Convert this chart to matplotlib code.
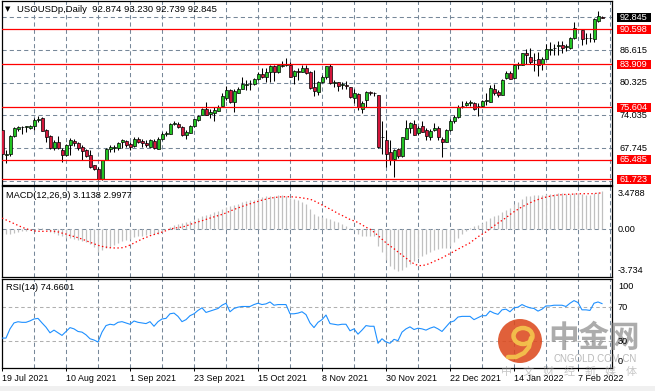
import numpy as np
import matplotlib
matplotlib.use('Agg')
import matplotlib.pyplot as plt
from matplotlib.patches import Rectangle, Circle, Ellipse

# Daily candles (USOUSDp), one entry per bar, None = bar not visible
opens = [71.3, 66.4, 66.6, 70.1, 71.5, 71.8, 71.8, 71.7, 72.0, 73.2,
         73.6, 71.2, 70.1, 67.7, 68.9, 67.3, 66.5, 68.3, 69.2, 68.7,
         67.9, 67.3, 66.4, 64.5, 63.7, 61.8, 65.5, 67.5, 67.7, 67.7,
         68.9, 69.2, 68.6, 68.2, 69.5, 69.2, 68.8, 68.0, 69.2, 67.5,
         69.5, 70.5, 70.5, 72.4, 72.4, 71.8, 70.3, 70.7, 72.0, 73.1,
         74.2, 75.2, 74.3, 74.6, 74.9, 75.9, 77.3, 79.0, 76.7, 78.4,
         79.1, 79.9, 80.0, 80.0, 81.0, 82.0, 81.5, 82.3, 83.5, 82.3,
         83.5, 83.7, 83.7, 81.6, 82.5, 82.4, 83.2, 82.4, 79.5, 78.6,
         80.4, 81.4, 83.5, 80.2, 80.4, 79.9, 79.9, 79.5, 77.3, 78.2,
         75.3, 77.1, 78.5, 78.3, 77.9, 69.8, 69.4, 67.0, 65.6, 67.5,
         66.2, 69.5, 71.7, 72.4, 70.6, 72.0, 71.2, 69.9, 71.3, 71.6,
         69.5, 69.0, 71.2, 72.9, 73.7, 75.8, 76.0, 76.5, 76.4, 75.9,
         75.8, 76.9, 76.7, 79.2, 78.5, 77.9, 81.2, 82.2, 81.2, 83.8,
         83.8, 86.0, 85.3, 84.7, 84.9, 83.9, 84.9, 86.7, 87.0, 87.4,
         87.6, 87.2, 87.0, 88.9, None, 90.4, 88.9, 89.0, 88.7, 92.2,
         92.874]
highs = [71.5, 67.4, 70.3, 71.8, 72.0, 72.0, 72.1, 72.2, 73.5, 73.9,
         73.7, 71.4, 70.2, 69.3, 70.1, 67.7, 68.5, 69.7, 69.6, 69.0,
         68.3, 67.6, 67.4, 64.6, 64.1, 65.5, 67.7, 68.4, 68.3, 69.0,
         69.6, 69.3, 69.0, 69.8, 69.8, 69.5, 69.3, 69.6, 69.6, 69.8,
         70.8, 71.1, 72.5, 73.0, 72.7, 72.0, 71.2, 72.2, 73.4, 74.1,
         75.4, 76.7, 75.2, 75.6, 76.0, 78.3, 79.7, 79.1, 79.1, 79.5,
         81.4, 80.9, 80.8, 81.2, 82.3, 83.1, 83.1, 83.8, 83.7, 83.8,
         84.5, 85.1, 84.4, 82.8, 83.1, 83.8, 83.8, 82.6, 82.7, 80.6,
         81.9, 83.6, 83.9, 80.9, 80.5, 80.5, 80.6, 79.6, 79.2, 78.4,
         76.9, 78.8, 78.7, 78.6, 78.0, 72.9, 71.2, 69.3, 67.5, 67.7,
         69.9, 73.1, 72.8, 73.1, 72.0, 72.9, 71.7, 71.5, 72.5, 72.0,
         69.9, 71.4, 73.3, 74.1, 76.0, 76.9, 76.9, 77.0, 76.6, 76.4,
         77.1, 78.3, 79.9, 80.1, 79.0, 81.0, 82.6, 82.5, 83.9, 84.3,
         86.1, 86.9, 87.1, 86.0, 86.2, 85.2, 87.8, 88.1, 87.8, 88.3,
         88.4, 87.8, 89.1, 92.0, None, 90.5, 89.9, 89.8, 92.7, 94.2,
         93.230]
lows = [65.9, 64.9, 66.3, 69.9, 71.0, 70.4, 70.9, 71.5, 71.3, 72.8,
        71.0, 68.9, 67.6, 67.4, 67.5, 65.0, 66.3, 66.5, 68.1, 67.4,
        65.5, 66.0, 63.9, 63.6, 61.7, 61.7, 65.4, 67.1, 67.1, 67.4,
        67.7, 68.0, 67.4, 68.0, 68.7, 68.0, 68.0, 67.9, 67.5, 67.5,
        69.3, 70.1, 70.4, 72.2, 71.6, 70.1, 69.6, 70.6, 71.8, 72.9,
        74.1, 74.1, 73.5, 72.9, 74.8, 75.8, 77.0, 76.5, 74.7, 78.3,
        79.1, 78.9, 78.9, 79.9, 80.9, 81.3, 80.5, 80.5, 80.6, 82.2,
        83.4, 83.5, 81.4, 80.1, 80.8, 82.3, 82.0, 79.2, 77.7, 78.0,
        80.2, 81.1, 80.1, 79.6, 78.8, 79.2, 79.1, 77.3, 76.4, 75.0,
        74.6, 75.6, 77.9, 77.7, 67.7, 66.7, 64.1, 64.6, 62.2, 65.9,
        66.1, 69.5, 70.7, 70.2, 70.3, 70.8, 69.3, 69.3, 71.1, 69.3,
        66.1, 68.9, 71.0, 72.6, 73.6, 75.5, 75.8, 75.8, 75.0, 73.9,
        75.7, 76.1, 76.6, 78.0, 77.6, 77.9, 81.1, 81.0, 81.1, 82.9,
        83.7, 83.9, 83.9, 82.5, 81.7, 82.8, 84.8, 85.7, 85.7, 85.7,
        86.0, 86.5, 86.9, 88.8, None, 87.5, 87.7, 88.1, 88.1, 92.0,
        92.739]
closes = [66.6, 66.6, 70.1, 71.6, 71.8, 71.9, 72.0, 72.1, 73.2, 73.3,
          71.1, 69.8, 67.7, 68.9, 67.7, 66.5, 68.3, 69.3, 68.7, 67.8,
          67.2, 66.3, 64.2, 63.7, 61.8, 65.5, 67.5, 68.0, 68.0, 68.7,
          69.3, 68.3, 68.0, 69.6, 68.95, 68.8, 68.3, 69.3, 67.8, 69.5,
          70.5, 70.7, 72.4, 72.6, 71.8, 70.2, 70.8, 72.0, 73.3, 74.0,
          75.2, 74.2, 74.7, 75.1, 75.6, 77.7, 79.0, 76.7, 78.8, 79.2,
          80.1, 80.1, 80.1, 81.0, 82.0, 81.5, 82.4, 83.6, 82.4, 83.7,
          83.7, 83.95, 81.5, 82.5, 82.4, 83.2, 82.2, 79.3, 78.8, 80.5,
          81.5, 83.5, 80.2, 80.4, 79.7, 80.0, 79.7, 77.5, 78.4, 75.6,
          76.5, 78.5, 78.3, 78.3, 67.9, 69.9, 66.6, 65.4, 67.4, 66.2,
          69.8, 71.6, 72.5, 70.3, 71.7, 70.9, 70.0, 71.1, 71.6, 69.8,
          69.0, 71.2, 72.9, 73.7, 75.7, 75.9, 76.5, 76.5, 75.2, 75.8,
          76.9, 77.0, 79.3, 78.4, 77.9, 80.8, 82.2, 81.1, 83.8, 83.85,
          86.0, 85.6, 84.4, 84.75, 83.8, 84.9, 86.9, 86.9, 87.1, 87.5,
          87.1, 87.4, 89.0, 90.9, None, 88.7, 89.0, 88.9, 92.5, 93.1,
          92.845]

# MACD(12,26,9): main (histogram) and signal
macd_main = [-0.38, -0.41, -0.35, -0.30, -0.25, -0.16, -0.11, -0.03, 0.05, 0.11,
             0.08, 0.00, -0.19, -0.27, -0.46, -0.57, -0.68, -0.74, -0.79, -0.87,
             -0.96, -1.06, -1.23, -1.45, -1.83, -1.72, -1.56, -1.45, -1.28, -1.12,
             -0.96, -0.87, -0.79, -0.63, -0.57, -0.52, -0.46, -0.41, -0.41, -0.35,
             -0.19, 0.03, 0.19, 0.35, 0.46, 0.52, 0.57, 0.68, 0.79, 0.96,
             1.12, 1.17, 1.28, 1.39, 1.50, 1.67, 1.83, 1.88, 1.99, 2.10,
             2.21, 2.32, 2.38, 2.43, 2.55, 2.62, 2.70, 2.76, 2.78, 2.80,
             2.80, 2.78, 2.60, 2.50, 2.38, 2.21, 2.05, 1.67, 1.23, 1.06,
             1.01, 0.96, 0.85, 0.68, 0.57, 0.41, 0.30, 0.08, -0.08, -0.41,
             -0.57, -0.57, -0.57, -0.52, -1.39, -1.88, -2.48, -2.98, -3.25, -3.41,
             -3.36, -3.08, -2.87, -2.59, -2.38, -2.16, -1.99, -1.83, -1.72, -1.61,
             -1.56, -1.56, -1.34, -1.06, -0.74, -0.41, -0.14, 0.14, 0.25, 0.35,
             0.52, 0.68, 0.90, 1.06, 1.17, 1.39, 1.61, 1.77, 2.05, 2.27,
             2.48, 2.70, 2.78, 2.80, 2.80, 2.82, 2.88, 2.90, 2.94, 2.95,
             2.95, 2.90, 2.90, 2.96, 3.02, 2.90, 2.85, 2.80, 2.96, 3.05,
             3.1138]
macd_signal = [0.93, 0.78, 0.63, 0.47, 0.32, 0.18, 0.06, -0.04, -0.12, -0.15,
               -0.16, -0.15, -0.12, -0.15, -0.20, -0.30, -0.38, -0.50, -0.58, -0.68,
               -0.79, -0.92, -1.05, -1.18, -1.30, -1.39, -1.45, -1.50, -1.52, -1.52,
               -1.50, -1.42, -1.28, -1.12, -0.95, -0.79, -0.66, -0.52, -0.42, -0.32,
               -0.22, -0.10, 0.03, 0.10, 0.15, 0.19, 0.28, 0.41, 0.52, 0.62,
               0.71, 0.82, 0.93, 1.03, 1.13, 1.23, 1.35, 1.50, 1.64, 1.76,
               1.88, 1.99, 2.10, 2.20, 2.30, 2.40, 2.48, 2.56, 2.61, 2.65,
               2.68, 2.68, 2.68, 2.66, 2.63, 2.59, 2.53, 2.48, 2.35, 2.18,
               2.02, 1.85, 1.68, 1.50, 1.30, 1.15, 0.98, 0.82, 0.70, 0.57,
               0.38, 0.18, 0.02, -0.22, -0.50, -0.80, -1.10, -1.35, -1.58, -1.85,
               -2.10, -2.35, -2.60, -2.82, -2.95, -2.97, -2.90, -2.78, -2.62, -2.48,
               -2.33, -2.15, -1.98, -1.80, -1.62, -1.45, -1.28, -1.10, -0.85, -0.60,
               -0.40, -0.20, 0.05, 0.30, 0.52, 0.75, 0.96, 1.22, 1.45, 1.65,
               1.85, 2.02, 2.18, 2.33, 2.45, 2.56, 2.65, 2.72, 2.78, 2.82,
               2.85, 2.87, 2.88, 2.90, 2.92, 2.93, 2.93, 2.93, 2.94, 2.968,
               2.9977]

# RSI(14)
rsi = [33.5, 33.5, 44.5, 51.6, 53.0, 52.3, 52.3, 54.0, 56.3, 57.0,
       51.6, 46.5, 39.8, 43.0, 39.8, 36.7, 41.4, 46.0, 44.5, 41.4,
       40.6, 37.4, 32.7, 31.2, 28.8, 40.6, 48.4, 50.0, 49.2, 52.3,
       53.1, 51.6, 50.0, 53.9, 52.3, 51.6, 50.8, 53.1, 47.6, 53.1,
       56.3, 57.0, 62.5, 63.3, 59.4, 53.1, 55.5, 60.2, 62.5, 66.5,
       69.6, 64.1, 65.7, 67.2, 68.8, 72.7, 75.1, 64.9, 68.8, 70.4,
       71.2, 71.2, 71.2, 73.5, 75.1, 73.5, 74.3, 76.6, 72.7, 73.5,
       73.5, 73.5, 62.5, 62.5, 63.3, 64.9, 61.5, 51.6, 46.0, 52.3,
       55.5, 61.0, 50.8, 50.0, 49.2, 50.0, 50.0, 42.2, 44.5, 38.2,
       43.0, 48.4, 47.6, 47.6, 27.3, 32.7, 28.8, 27.3, 32.0, 30.4,
       40.6, 44.5, 46.9, 43.7, 45.3, 44.5, 43.0, 45.3, 46.9, 44.5,
       41.4, 46.9, 52.3, 53.9, 58.6, 59.4, 59.4, 59.4, 55.5, 57.8,
       60.2, 60.2, 65.7, 63.3, 61.8, 67.2, 68.0, 64.9, 69.6, 70.4,
       73.5, 71.2, 69.6, 68.8, 65.7, 68.0, 71.9, 71.9, 72.7, 72.7,
       72.7, 71.2, 75.1, 78.2, 75.9, 67.2, 67.2, 66.5, 75.1, 76.6,
       74.6601]

date_labels = ['19 Jul 2021', '10 Aug 2021', '1 Sep 2021', '23 Sep 2021', '15 Oct 2021',
               '8 Nov 2021', '30 Nov 2021', '22 Dec 2021', '14 Jan 2022', '7 Feb 2022']
date_bars = [0, 16, 32, 48, 64, 80, 96, 112, 128, 144]

red_levels = [90.598, 83.909, 75.604, 65.485, 61.723]
price_grid = [92.905, 86.615, 80.325, 74.035, 67.745, 61.455]
price_labels = [86.615, 80.325, 74.035, 67.745]

# ---------------------------------------------------------------
plt.rcParams['font.family'] = ['Liberation Sans', 'DejaVu Sans']
plt.rcParams['lines.scale_dashes'] = False

W, H = 655, 391
GRID = '#778899'
DASH = (0, (3.0, 2.2))

fig = plt.figure(figsize=(W / 100, H / 100), dpi=100)


def px_rect(x0, y0, x1, y1):
    return [x0 / W, 1 - y1 / H, (x1 - x0) / W, (y1 - y0) / H]


ax1 = fig.add_axes(px_rect(1.5, 0.5, 612, 184.5))
ax2 = fig.add_axes(px_rect(1.5, 186, 612, 277))
ax3 = fig.add_axes(px_rect(1.5, 279, 612, 368))
ov = fig.add_axes([0, 0, 1, 1], zorder=20)
ov.set_xlim(0, W)
ov.set_ylim(H, 0)
ov.axis('off')
ov.patch.set_alpha(0)

o = np.array(opens, dtype=float)
h = np.array(highs, dtype=float)
l = np.array(lows, dtype=float)
c = np.array(closes, dtype=float)
x = np.arange(len(c))
ok = ~np.isnan(c)

for ax in (ax1, ax2, ax3):
    ax.set_xlim(-0.125, 152.5)
    ax.set_yticks([])
    for s in ax.spines.values():
        s.set_linewidth(0.9)
        s.set_color('black')
    for k in range(8, 153, 8):
        ax.axvline(k, color=GRID, lw=0.75, linestyle=DASH, zorder=1)

# --- main price panel
ax1.set_ylim(60.76, 96.14)
ax1.set_xticks([])
for g in price_grid:
    ax1.axhline(g, color=GRID, lw=0.75, linestyle=DASH, zorder=1)

ax1.vlines(x[ok], l[ok], h[ok], color='black', lw=0.75, zorder=3)
up = ok & (c >= o)
dn = ok & (c < o)
ax1.bar(x[up], np.maximum(c[up] - o[up], 0.06), bottom=o[up], width=0.75,
        color='#22c322', edgecolor='black', lw=0.5, zorder=4)
ax1.bar(x[dn], o[dn] - c[dn], bottom=c[dn], width=0.75,
        color='#d3173c', edgecolor='black', lw=0.5, zorder=4)
for lv in red_levels:
    ax1.axhline(lv, color='#ff0000', lw=0.9, zorder=5)

# --- MACD panel
ax2.set_ylim(-3.90, 3.56)
ax2.set_xticks([])
ax2.axhline(0, color=GRID, lw=0.75, linestyle=DASH, zorder=1)
ax2.vlines(x, 0, macd_main, color='#c0c0c0', lw=0.9, zorder=2)
ax2.plot(x, macd_signal, color='#ff0000', lw=0.9, linestyle=(0, (1.0, 1.8)), zorder=3)

# --- RSI panel
ax3.set_ylim(-2.2, 104.0)
for lv in (70, 30):
    ax3.axhline(lv, color='#b0b0b0', lw=0.75, linestyle=(0, (2.5, 2.0)), zorder=1)
ax3.plot(x, rsi, color='#1e90ff', lw=0.8, zorder=3)
ax3.set_xticks(date_bars)
ax3.set_xticklabels(date_labels, ha='left', fontsize=6.4)
ax3.tick_params(axis='x', length=2, width=0.7, pad=2)


def ypx(ax, v):
    return H - ax.transData.transform((0, v))[1]


# right-hand scale labels
for v in price_labels:
    ov.text(620, ypx(ax1, v), f'{v:.3f}', fontsize=6.6, va='center', ha='left')
for lv in red_levels:
    yy = ypx(ax1, lv)
    ov.add_patch(Rectangle((617, yy - 4.5), 34, 9, fc='#ff0000', ec='none'))
    ov.text(620, yy, f'{lv:.3f}', fontsize=6.6, va='center', ha='left', color='white')
yy = ypx(ax1, c[-1])
ov.add_patch(Rectangle((617, yy - 4.5), 34, 9, fc='black', ec='none'))
ov.text(620, yy, f'{c[-1]:.3f}', fontsize=6.6, va='center', ha='left', color='white')

ov.text(618, ypx(ax2, 3.4788) + 7, '3.4788', fontsize=6.6, va='center')
ov.text(618, ypx(ax2, 0), '0.00', fontsize=6.6, va='center')
ov.text(618, ypx(ax2, -3.734) - 4.5, '-3.734', fontsize=6.6, va='center')
ov.text(618, ypx(ax3, 100) + 4.5, '100', fontsize=6.6, va='center')
ov.text(618, ypx(ax3, 70), '70', fontsize=6.6, va='center')
ov.text(618, ypx(ax3, 30), '30', fontsize=6.6, va='center')
ov.text(618, ypx(ax3, 0) - 4.5, '0', fontsize=6.6, va='center')

# panel captions
ov.text(5, 9, '\u25bc', fontsize=5, va='center', family=['DejaVu Sans'])
ov.text(17, 9, f'USOUSDp,Daily  {opens[-1]:.3f} {highs[-1]:.3f} {lows[-1]:.3f} {closes[-1]:.3f}',
        fontsize=6.8, va='center')
ov.text(6, 195, f'MACD(12,26,9) {macd_main[-1]:.4f} {macd_signal[-1]:.4f}', fontsize=6.7, va='center')
ov.text(6, 288, f'RSI(14) {rsi[-1]:.4f}', fontsize=6.7, va='center')

# bottom strip
ov.add_patch(Rectangle((0, 386), W, 5, fc='#f0f0f0', ec='none', zorder=0))

# watermark
ov.add_patch(Circle((520, 341), 22, fc='#dc4a1e', ec='none', alpha=0.88, zorder=2))
ov.add_patch(Ellipse((523, 336), 19, 16, fc='none', ec='#f4c24c', lw=3.2, alpha=0.95, zorder=3))
ov.plot([531, 529, 524, 516, 508], [338, 347, 353, 357, 357], color='#f4c24c', lw=3.2,
        solid_capstyle='round', alpha=0.95, zorder=3)
ov.text(594, 338, '中金网', fontsize=22, color='#808080', alpha=0.65, weight='bold',
        ha='center', va='center', family=['Noto Sans CJK SC'], zorder=2)
ov.text(595, 359, 'CNGOLD.COM.CN', fontsize=7, color='#8a8a8a', alpha=0.6,
        ha='center', va='center', zorder=2)
for k, ch in enumerate('中文财经新媒体'):
    ov.text(507 + 20.7 * k, 372, ch, fontsize=8, color='#9a9a9a', alpha=0.55,
            ha='center', va='center', family=['Noto Sans CJK SC'], zorder=2)

fig.savefig('out.png', dpi=100)
